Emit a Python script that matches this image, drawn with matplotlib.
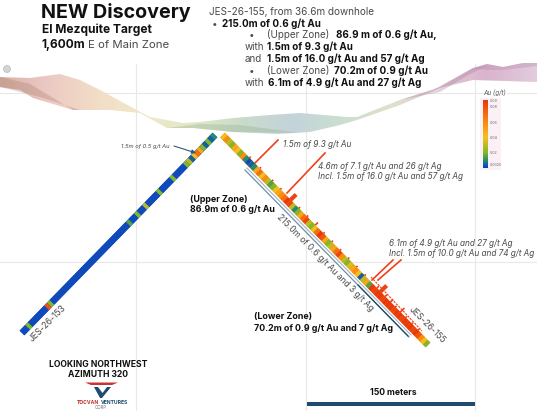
import numpy as np
import matplotlib
matplotlib.use('Agg')
import matplotlib.pyplot as plt
from matplotlib.collections import LineCollection
from matplotlib.colors import LinearSegmentedColormap
from matplotlib.patches import Polygon, Circle

plt.rcParams['font.family'] = ['Inter', 'DejaVu Sans']

# everything in its own pixels
grid_x = [136, 305.5, 474.5]
grid_y = [93, 262]

# terrain surface
top_x = [0, 30, 60, 80, 100, 133, 150, 183, 200, 233, 270, 300, 347, 357, 400, 433, 473, 487, 503, 523, 537]
top_y = [77, 78, 74, 80, 90, 108, 117, 123, 122, 118, 115, 113, 117, 117, 100, 90, 68, 64, 67, 63, 63]
bot_x = [537, 473, 440, 400, 357, 340, 310, 277, 233, 193, 167, 140, 110, 73, 33, 20, 0]
bot_y = [82, 80, 88, 105, 120, 125, 132, 134, 132, 128, 128, 113, 110, 110, 98, 90, 87]
terrain_colors = ['#d9b3a8', '#eccac4', '#f2dec6', '#f1e8cb', '#e0e7c8', '#c9dccb', '#c3d3da',
                  '#cbdfd0', '#dfe0cc', '#e2ccd4', '#d9b4cd', '#e2cbdd']

# drill holes, grade per interval from collar to toe
hole_155_x = [222.5, 428]
hole_155_y = [135, 345]
hole_153_x = [215, 22]
hole_153_y = [135, 333]
grades_155 = [0.04, 0.06, 0.03, 0.02, 0.05, 0.04, 0.02, 0.06,
              0.01, 0.0025, 0.005, 0.01,
              0.05, 0.07, 0.04, 0.06, 0.03,
              0.015, 0.02, 0.04, 0.05, 0.06, 0.07,
              0.09, 0.085, 0.03, 0.01, 0.02, 0.05,
              0.07, 0.085, 0.03, 0.02, 0.04, 0.07, 0.09, 0.08,
              0.05, 0.02, 0.03, 0.05, 0.07, 0.085, 0.06, 0.03,
              0.02, 0.035, 0.05, 0.06, 0.04, 0.005, 0.03, 0.05, 0.015,
              0.09, 0.085, 0.09, 0.09, 0.085, 0.09, 0.09, 0.09, 0.085,
              0.09, 0.09, 0.085, 0.09, 0.09, 0.09, 0.085, 0.09, 0.08,
              0.06, 0.04, 0.02]
grades_153 = [0.01, 0.005, 0.02, 0.005, 0.02, 0.05, 0.07, 0.04, 0.005, 0.03, 0.02,
              0.0025, 0.0025, 0.0025, 0.0025, 0.02, 0.0025, 0.0025, 0.0025, 0.0025,
              0.02, 0.0025, 0.0025, 0.0025, 0.0025, 0.03, 0.0025, 0.0025, 0.02, 0.0025,
              0.0025, 0.015, 0.0025, 0.0025, 0.0025, 0.0025, 0.0025, 0.0025, 0.0025, 0.0025,
              0.0025, 0.0025, 0.0025, 0.0025, 0.0025, 0.0025, 0.0025, 0.0025, 0.0025, 0.0025,
              0.0025, 0.0025, 0.0025, 0.0025, 0.0025, 0.0025, 0.0025, 0.0025, 0.0025, 0.0025,
              0.02, 0.08, 0.0025, 0.0025, 0.0025, 0.0025, 0.0025, 0.0025, 0.02, 0.0025, 0.0025]

# red assay bars on hole 155: position along the hole and bar length
peak_pos = [0.12, 0.17, 0.23, 0.27, 0.32, 0.36, 0.40, 0.44, 0.48, 0.52, 0.56, 0.60, 0.64, 0.68,
            0.74, 0.757, 0.78, 0.806, 0.83, 0.854, 0.88, 0.91, 0.94]
peak_len = [2, 2, 2, 2, 8, 2, 2, 4, 2, 2, 2, 2, 2, 2,
            3, 9, 3, 4, 2, 6, 2, 2, 2]

legend_ticks = [0.09, 0.08, 0.06, 0.04, 0.02, 0.0025]
legend_labels = ['0.09', '0.08', '0.06', '0.04', '0.02', '0.0025']
grade_stops = [0, 0.1, 0.22, 0.45, 0.68, 1]
grade_colors = ['#0c34d4', '#1a8a70', '#7fb82a', '#f4c020', '#f98a10', '#e8380e']
grade_cmap = LinearSegmentedColormap.from_list('au', list(zip(grade_stops, grade_colors)))

fig = plt.figure(figsize=(5.37, 4.11), dpi=100)
ax = fig.add_axes([0, 0, 1, 1])

for x in grid_x:
    ax.plot([x, x], [64, 411], color='#e8e8e8', lw=0.8, zorder=1)
for y in grid_y:
    ax.plot([0, 537], [y, y], color='#e8e8e8', lw=0.8, zorder=1)

# terrain ribbon, colour runs left to right
terrain_cmap = LinearSegmentedColormap.from_list('terrain_band', terrain_colors)
im = ax.imshow(np.linspace(0, 1, 537).reshape(1, -1), cmap=terrain_cmap, extent=[0, 537, 140, 60],
               aspect='auto', zorder=2)
ribbon = Polygon(list(zip(top_x + bot_x, top_y + bot_y)), closed=True, transform=ax.transData,
                 fc='none', ec='none')
ax.add_patch(ribbon)
im.set_clip_path(ribbon)
# darker folds of the ribbon
folds = [([0, 30, 73, 80, 40, 0], [77, 84, 110, 110, 97, 87], '#a87868'),
         ([167, 200, 240, 300, 233, 193], [128, 124, 125, 133, 132, 128], '#8aa888'),
         ([400, 440, 473, 487, 470, 440], [100, 87, 68, 66, 74, 92], '#a07098'),
         ([473, 487, 503, 523, 537, 537, 503, 487], [68, 64, 67, 63, 63, 66, 70, 70], '#b080a8')]
for fx, fy, fc in folds:
    ax.fill(fx, fy, color=fc, alpha=0.3, lw=0, zorder=2.5)
ax.add_patch(Circle((7, 69), 3.5, fc='#d4d4d4', ec='#bbbbbb', lw=0.5, zorder=3))


def draw_hole(xs, ys, grades, base):
    t = np.linspace(0, 1, len(grades) + 1)
    px = xs[0] + (xs[1] - xs[0]) * t
    py = ys[0] + (ys[1] - ys[0]) * t
    # plain line underneath so the joins between intervals do not show white
    ax.plot(xs, ys, color=base, lw=4.8, solid_capstyle='butt', zorder=4.5)
    segs = np.stack([np.column_stack([px[:-1], py[:-1]]), np.column_stack([px[1:], py[1:]])], axis=1)
    lc = LineCollection(segs, cmap=grade_cmap, linewidths=4.8, capstyle='butt', zorder=5)
    lc.set_array(np.array(grades))
    lc.set_clim(0, 0.09)
    ax.add_collection(lc)


# intercept bars beside hole 155
ax.plot([245, 409], [170, 337], color='#6f8fa8', lw=0.9, zorder=4)
ax.plot([247, 411], [168, 335], color='#9fb4c4', lw=0.8, zorder=4)
ax.plot([358, 408], [285, 336], color='#1e4a6c', lw=0.9, zorder=4)

draw_hole(hole_153_x, hole_153_y, grades_153, '#0c34d4')
draw_hole(hole_155_x, hole_155_y, grades_155, '#f98a10')

# assay bars
dx = hole_155_x[1] - hole_155_x[0]
dy = hole_155_y[1] - hole_155_y[0]
norm = np.hypot(dx, dy)
nx, ny = abs(dy) / norm, -abs(dx) / norm
for p, length in zip(peak_pos, peak_len):
    bx = hole_155_x[0] + dx * p + nx * 3
    by = hole_155_y[0] + dy * p + ny * 3
    ax.plot([bx, bx + nx * length], [by, by + ny * length], color='#f0401a',
            lw=3 if length >= 8 else 1.2, solid_capstyle='butt', zorder=4)
ax.plot([371, 422], [277, 331], color='#f0401a', lw=0.8, ls=(0, (2, 1)), zorder=4)

# callout lines
for cx, cy in [([255, 278], [163, 140]), ([287, 325], [193, 153]),
               ([372, 393], [280, 260]), ([378, 401], [280, 260])]:
    ax.plot(cx, cy, color='#f0401a', lw=1.2, zorder=4)
ax.annotate('', xy=(196, 153), xytext=(174, 146), zorder=6,
            arrowprops=dict(arrowstyle='-|>', color='#2a5a80', lw=0.8, mutation_scale=6, shrinkA=0, shrinkB=0))

# grade legend
ax.fill([480, 501, 501, 480], [98, 98, 170, 170], color='#fbf0f6', lw=0, zorder=3)
ax.imshow(np.linspace(1, 0, 200).reshape(-1, 1), cmap=grade_cmap, extent=[483, 488, 168, 100],
          aspect='auto', zorder=4)
for tick, lab in zip([101, 107, 123, 138, 153, 165], legend_labels):
    ax.text(489.5, tick, lab, fontsize=2.6, color='#666666', va='center', zorder=5)
ax.text(495, 93, 'Au (g/t)', fontsize=4.6, style='italic', color='#555555', ha='center', va='center',
        bbox=dict(fc='white', ec='none', pad=0.6), zorder=5)

# scale bar
ax.fill([307, 475, 475, 307], [402, 402, 406, 406], color='#1f4b70', lw=0, zorder=4)

dark = '#111111'
soft = '#4a4a4a'
ax.text(41, 12, 'NEW Discovery', fontsize=14.2, fontweight='bold', color=dark, va='center')
ax.text(42, 30, 'El Mezquite Target', fontsize=8.6, fontweight='bold', color=dark, va='center')
ax.text(42, 45, '1,600m', fontsize=8.6, fontweight='bold', color=dark, va='center')
ax.text(88, 45, 'E of Main Zone', fontsize=8.2, color=soft, va='center')

ax.text(209, 12, 'JES-26-155, from 36.6m downhole', fontsize=7.2, color=soft, va='center')
summary = [(212, 24, '•', False), (222, 24, '215.0m of 0.6 g/t Au', True),
           (249, 35, '•', False), (267, 35, '(Upper Zone)', False), (336, 35, '86.9 m of 0.6 g/t Au,', True),
           (245, 47, 'with', False), (267, 47, '1.5m of 9.3 g/t Au', True),
           (245, 59, 'and', False), (267, 59, '1.5m of 16.0 g/t Au and 57 g/t Ag', True),
           (249, 71, '•', False), (267, 71, '(Lower Zone)', False), (334, 71, '70.2m of 0.9 g/t Au', True),
           (245, 83, 'with', False), (268, 83, '6.1m of 4.9 g/t Au and 27 g/t Ag', True)]
for sx, sy, s, bold in summary:
    ax.text(sx, sy, s, fontsize=7.1, fontweight='bold' if bold else 'normal',
            color=dark if bold else soft, va='center', zorder=6)

notes = [(283, 144, '1.5m of 9.3 g/t Au', 5.9), (318, 166, '4.6m of 7.1 g/t Au and 26 g/t Ag', 5.9),
         (318, 176, 'Incl. 1.5m of 16.0 g/t Au and 57 g/t Ag', 5.9),
         (389, 243, '6.1m of 4.9 g/t Au and 27 g/t Ag', 5.9),
         (389, 253, 'Incl. 1.5m of 10.0 g/t Au and 74 g/t Ag', 5.9),
         (121, 146, '1.5m of 0.5 g/t Au', 4.2)]
for note_x, note_y, s, fs in notes:
    ax.text(note_x, note_y, s, fontsize=fs, style='italic', color=soft, va='center', zorder=6)

ax.text(190, 199, '(Upper Zone)', fontsize=6.4, fontweight='bold', color=dark, va='center')
ax.text(190, 209, '86.9m of 0.6 g/t Au', fontsize=6.4, fontweight='bold', color=dark, va='center')
ax.text(254, 316, '(Lower Zone)', fontsize=6.4, fontweight='bold', color=dark, va='center')
ax.text(254, 328, '70.2m of 0.9 g/t Au and 7 g/t Ag', fontsize=6.4, fontweight='bold', color=dark, va='center')

ax.text(325, 263, '215.0m of 0.6 g/t Au and 3 g/t Ag', fontsize=6.1, color=soft, rotation=-45,
        rotation_mode='anchor', ha='center', va='center')
ax.text(427, 325, 'JES-26-155', fontsize=6.2, color=soft, rotation=-45, rotation_mode='anchor',
        ha='center', va='center')
ax.text(48, 323, 'JES-26-153', fontsize=6.2, color=soft, rotation=45, rotation_mode='anchor',
        ha='center', va='center')

ax.text(98, 364, 'LOOKING NORTHWEST', fontsize=6.2, fontweight='bold', color=dark, ha='center', va='center')
ax.text(98, 374, 'AZIMUTH 320', fontsize=6.2, fontweight='bold', color=dark, ha='center', va='center')
ax.text(393, 392, '150 meters', fontsize=6.2, fontweight='bold', color=dark, ha='center', va='center')

# logo
ax.fill([85, 118, 112, 91], [382.5, 382.5, 385, 385], color='#c8352e', lw=0, zorder=4)
ax.fill([94, 111, 102, 100], [387, 387, 398, 398], color='#1f4b70', lw=0, zorder=4)
ax.fill([98, 107, 102.5], [387, 387, 393], color='white', lw=0, zorder=4)
ax.text(99.5, 402, 'TOCVAN', fontsize=3.6, fontweight='bold', color='#b8322e', ha='right', va='center')
ax.text(101, 402, 'VENTURES', fontsize=3.6, fontweight='bold', color='#1f4b70', ha='left', va='center')
ax.text(101, 407.5, 'CORP.', fontsize=3.2, color='#777777', ha='center', va='center')

ax.set_xlim(0, 537)
ax.set_ylim(411, 0)
ax.axis('off')
fig.savefig('out.png', dpi=100)
